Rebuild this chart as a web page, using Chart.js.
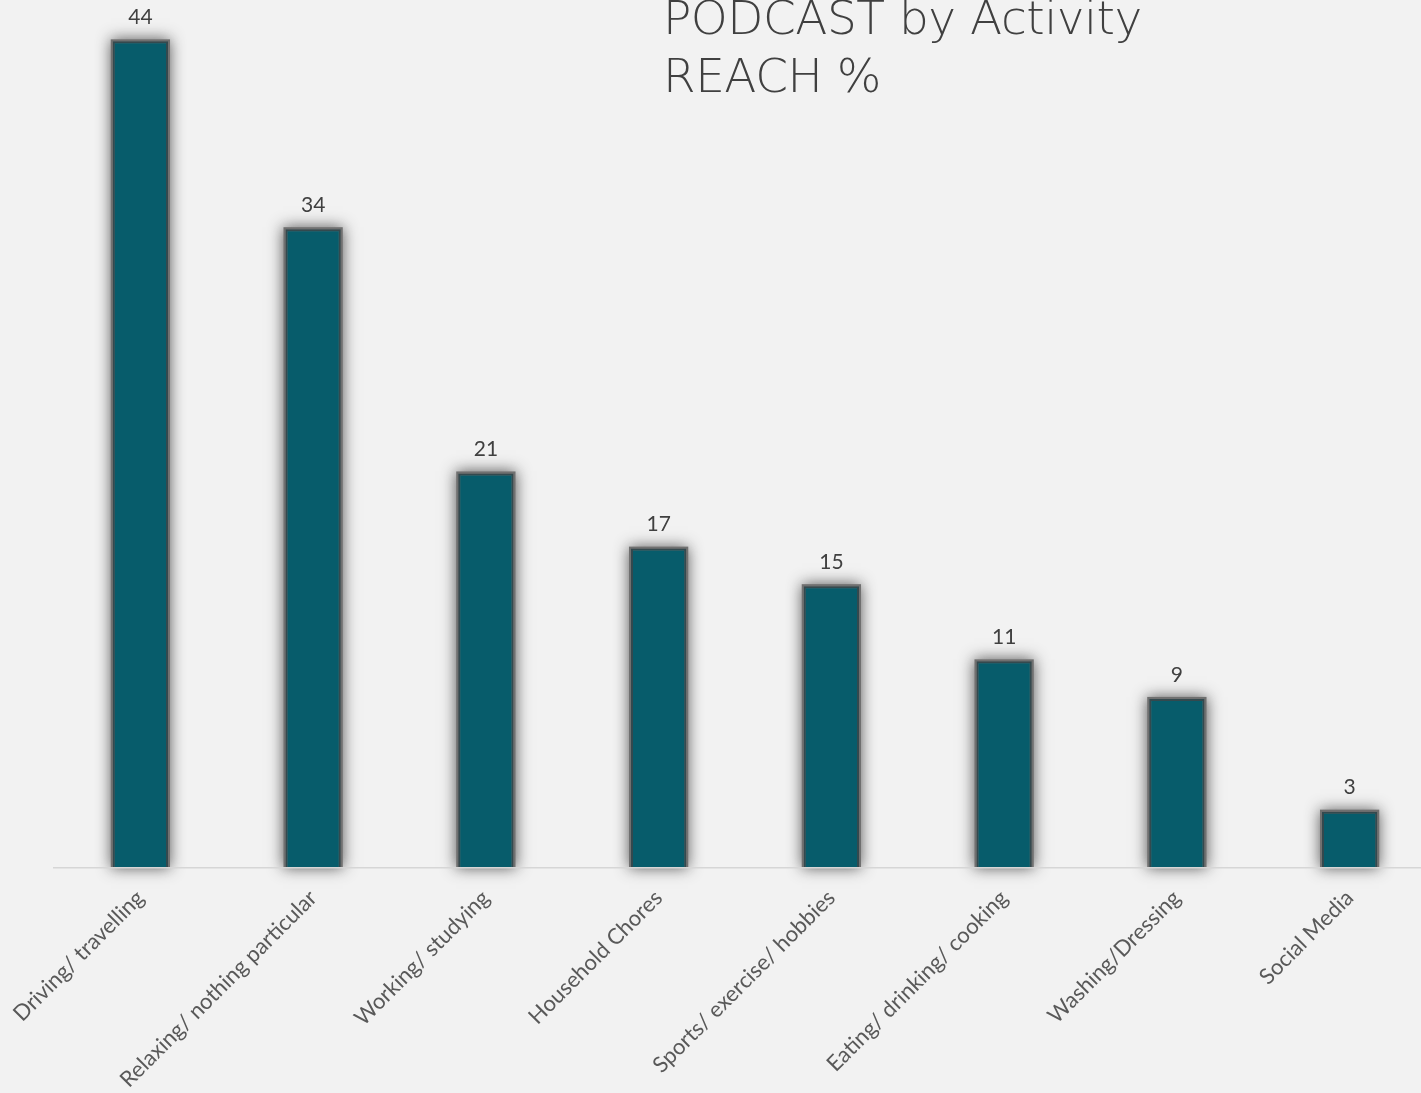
<!DOCTYPE html>
<html>
<head>
<meta charset="utf-8">
<script src="https://cdn.jsdelivr.net/npm/chart.js@4.4.1/dist/chart.umd.min.js"></script>
<style>
  html, body { margin: 0; padding: 0; background: #f2f2f2; overflow: hidden; }
  #wrap { position: relative; width: 1436px; height: 1093px; }
  #title {
    position: absolute; left: 663px; top: -11px;
    font-family: "DejaVu Sans", sans-serif; font-weight: 300;
    font-size: 47px; line-height: 58px; color: #404040;
    letter-spacing: -0.5px; white-space: nowrap;
  }
</style>
</head>
<body>
<div id="wrap">
  <canvas id="c" width="1436" height="1093"></canvas>
  <div id="title">PODCAST by Activity<br>REACH %</div>
</div>
<script>
const categories = [
  "Driving/ travelling",
  "Relaxing/ nothing particular",
  "Working/ studying",
  "Household Chores",
  "Sports/ exercise/ hobbies",
  "Eating/ drinking/ cooking",
  "Washing/Dressing",
  "Social Media"
];
const reach = [44, 34, 21, 17, 15, 11, 9, 3];

// soft grey glow painted behind each bar, and value labels above them
const barGlow = {
  id: 'barGlow',
  beforeDatasetsDraw(chart) {
    const ctx = chart.ctx;
    const meta = chart.getDatasetMeta(0);
    ctx.save();
    ctx.shadowColor = 'rgba(50,50,50,0.8)';
    ctx.shadowBlur = 14;
    ctx.fillStyle = '#707070';
    meta.data.forEach(bar => {
      const p = bar.getProps(['x', 'y', 'base', 'width'], true);
      const l = p.x - p.width / 2 - 2, t = p.y - 2;
      ctx.fillRect(l, t, p.width + 4, p.base - t);
    });
    ctx.restore();
  },
  afterDatasetsDraw(chart) {
    const ctx = chart.ctx;
    const meta = chart.getDatasetMeta(0);
    ctx.save();
    ctx.fillStyle = '#404040';
    ctx.font = '21px Lato, sans-serif';
    ctx.textAlign = 'center';
    ctx.textBaseline = 'middle';
    meta.data.forEach((bar, i) => {
      ctx.fillText(String(reach[i]), bar.x, bar.y - 24);
    });
    ctx.restore();
  }
};

new Chart(document.getElementById('c'), {
  type: 'bar',
  data: {
    labels: categories,
    datasets: [{
      data: reach,
      backgroundColor: '#075c6b',
      borderColor: '#34494e',
      borderWidth: 2,
      barPercentage: 0.32,
      categoryPercentage: 1.0
    }]
  },
  options: {
    responsive: false,
    animation: false,
    layout: { padding: { left: 54, right: 0, top: 0, bottom: 0 } },
    plugins: { legend: { display: false }, tooltip: { enabled: false } },
    scales: {
      x: {
        grid: { display: false },
        border: { display: true, color: '#d6d6d6', width: 1.5, z: 1 },
        ticks: {
          color: '#595959',
          font: { family: 'Lato, sans-serif', size: 22 },
          minRotation: 45, maxRotation: 45,
          padding: 9
        },
        afterFit(scale) { scale.height = 225; }
      },
      y: {
        display: false,
        min: 0,
        max: 46.2
      }
    }
  },
  plugins: [barGlow]
});
</script>
</body>
</html>
